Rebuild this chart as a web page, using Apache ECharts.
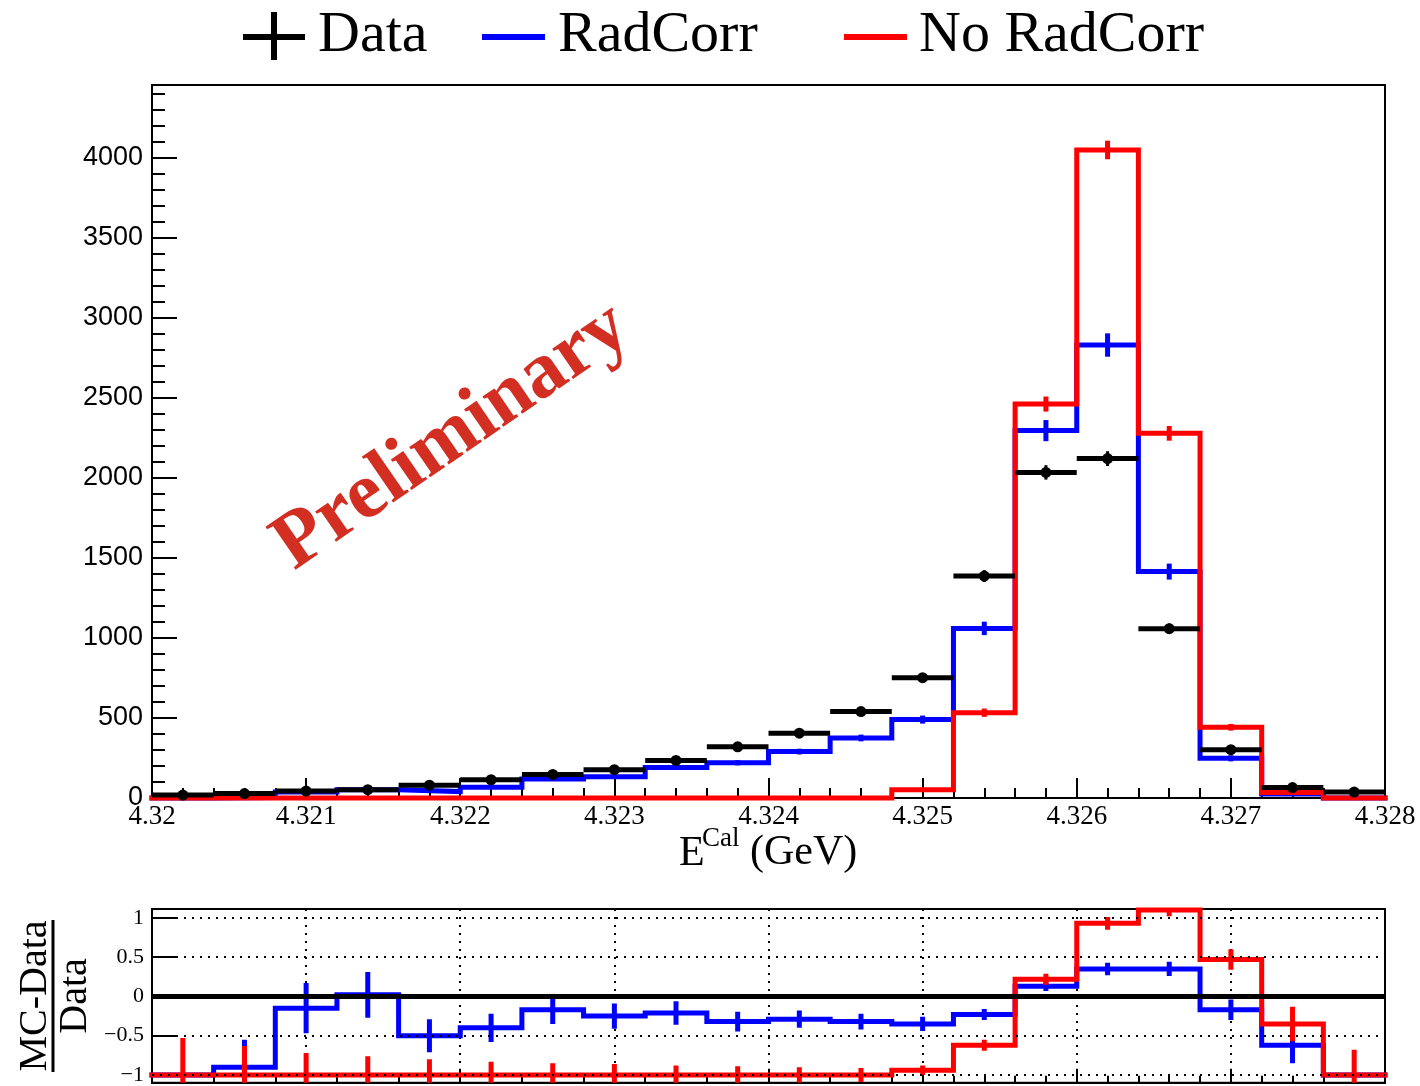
<!DOCTYPE html>
<html>
<head>
<meta charset="utf-8">
<title>E^Cal spectrum: data vs. MC with and without radiative corrections</title>
<script src="https://cdn.jsdelivr.net/npm/echarts@6/dist/echarts.min.js"></script>
<style>
  html, body { margin: 0; padding: 0; background: #fff; }
  #chart { width: 1420px; height: 1086px; }
</style>
</head>
<body>
<div id="chart"></div>
<script>
// ---- binning: 20 bins of 0.4 MeV between 4.320 and 4.328 GeV ----
const binCenters = [4.3202, 4.3206, 4.3210, 4.3214, 4.3218, 4.3222, 4.3226, 4.3230, 4.3234, 4.3238,
                    4.3242, 4.3246, 4.3250, 4.3254, 4.3258, 4.3262, 4.3266, 4.3270, 4.3274, 4.3278];
const xTicks = [4.320, 4.321, 4.322, 4.323, 4.324, 4.325, 4.326, 4.327, 4.328];
const beamLine = 4.3256;                 // vertical reference line

// ---- upper panel: event counts ----
const dataCounts   = [18, 28, 43, 52, 80, 114, 147, 177, 235, 320, 405, 540, 752, 1387, 2035, 2121, 1058, 302, 65, 37];
const dataErr      = [4, 5, 7, 7, 9, 11, 12, 13, 15, 18, 20, 23, 27, 37, 45, 46, 33, 17, 8, 6];
const radCorr      = [0, 3, 37, 52, 40, 67, 118, 133, 190, 220, 290, 375, 490, 1060, 2296, 2831, 1415, 248, 25, 0];
const radCorrErr   = [0, 2, 7, 8, 7, 9, 12, 12, 15, 16, 18, 21, 25, 42, 66, 73, 50, 19, 6, 0];
const noRadCorr    = [0, 0, 0, 0, 0, 0, 0, 0, 0, 0, 0, 0, 52, 533, 2462, 4050, 2279, 442, 35, 0];
const noRadCorrErr = [0, 0, 0, 0, 0, 0, 0, 0, 0, 0, 0, 0, 8, 26, 47, 58, 46, 21, 5, 0];
const yTicksTop    = [0, 500, 1000, 1500, 2000, 2500, 3000, 3500, 4000];
const yMaxTop      = 4456;

// ---- lower panel: (MC-Data)/Data ----
const ratioRad       = [-1, -0.9, -0.15, 0.02, -0.5, -0.4, -0.17, -0.25, -0.21, -0.32,
                        -0.29, -0.32, -0.35, -0.23, 0.13, 0.35, 0.35, -0.17, -0.62, -1];
const ratioRadErr    = [0, 0.35, 0.32, 0.29, 0.21, 0.18, 0.18, 0.16, 0.15, 0.125,
                        0.11, 0.1, 0.09, 0.07, 0.06, 0.08, 0.09, 0.13, 0.23, 0];
const ratioNoRad     = [-1, -1, -1, -1, -1, -1, -1, -1, -1, -1,
                        -1, -1, -0.94, -0.62, 0.22, 0.93, 1.1, 0.47, -0.35, -1];
const ratioNoRadErr  = [0.47, 0.37, 0.28, 0.24, 0.2, 0.17, 0.15, 0.14, 0.12, 0.11,
                        0.1, 0.09, 0.06, 0.07, 0.07, 0.08, 0.08, 0.13, 0.22, 0.32];
const yTicksRatio    = [-1, -0.5, 0, 0.5, 1];
const ratioGrid      = [-1, -0.5, 0.5, 1];

// ---- styling ----
const SERIF = "'Liberation Serif','Times New Roman',serif";
const SANS = "'Liberation Sans',Arial,Helvetica,sans-serif";
const BLUE = '#0000ff', RED = '#ff0000', MAGENTA = '#ff00ff', BLACK = '#000000';
const BIN_W = binCenters[1] - binCenters[0];

// histogram outline points: lower edge of every bin plus the last upper edge
function stepPoints(vals) {
  const pts = vals.map((v, i) => [binCenters[i] - BIN_W / 2, v]);
  pts.push([binCenters[vals.length - 1] + BIN_W / 2, vals[vals.length - 1]]);
  return pts;
}
function triples(vals, errs) {
  return vals.map((v, i) => [binCenters[i], v, errs[i]]);
}
function histLine(name, vals, color, grid) {
  return {
    name, type: 'line', xAxisIndex: grid, yAxisIndex: grid,
    data: stepPoints(vals), step: 'end', symbol: 'none', showSymbol: false,
    clip: false, z: color === RED ? 4 : 3,
    lineStyle: { color, width: 5, join: 'miter', cap: 'square' }
  };
}
function errBars(vals, errs, color, grid, width) {
  return {
    type: 'custom', xAxisIndex: grid, yAxisIndex: grid, clip: grid === 1, z: color === RED ? 4 : 3,
    data: triples(vals, errs), encode: { x: 0, y: 1 },
    renderItem(params, api) {
      const c = api.value(0), v = api.value(1), e = api.value(2);
      if (!e) return null;
      const a = api.coord([c, v + e]), b = api.coord([c, v - e]);
      return { type: 'line', shape: { x1: a[0], y1: a[1], x2: b[0], y2: b[1] },
               style: { stroke: color, lineWidth: width } };
    }
  };
}

const chart = echarts.init(document.getElementById('chart'), null, { renderer: 'canvas' });

const xAxisCommon = {
  type: 'value', min: xTicks[0], max: xTicks[xTicks.length - 1], interval: 0.001,
  axisLine: { show: true, onZero: false, lineStyle: { color: BLACK, width: 2 } },
  splitLine: { show: false }
};

chart.setOption({
  animation: false,
  backgroundColor: '#ffffff',
  grid: [
    { left: 152, top: 85, width: 1233, height: 713, show: true, borderColor: BLACK, borderWidth: 2 },
    { left: 152, top: 909, width: 1233, height: 177, show: true, borderColor: BLACK, borderWidth: 2 }
  ],
  xAxis: [
    Object.assign({}, xAxisCommon, {
      gridIndex: 0,
      axisTick: { show: true, inside: true, length: 20, lineStyle: { color: BLACK, width: 2 } },
      minorTick: { show: true, splitNumber: 5, length: 10, lineStyle: { color: BLACK, width: 2 } },
      axisLabel: { color: BLACK, fontFamily: SERIF, fontSize: 27, margin: 5,
                   formatter: v => String(+(+v).toFixed(3)) }
    }),
    Object.assign({}, xAxisCommon, {
      gridIndex: 1,
      axisTick: { show: true, inside: true, length: 14, lineStyle: { color: BLACK, width: 2 } },
      minorTick: { show: true, splitNumber: 5, length: 7, lineStyle: { color: BLACK, width: 2 } },
      axisLabel: { show: false },
      splitLine: { show: true, lineStyle: { color: BLACK, width: 2, type: [2, 6] } }
    })
  ],
  yAxis: [
    {
      gridIndex: 0, type: 'value', min: 0, max: yMaxTop, interval: 500,
      axisLine: { show: true, lineStyle: { color: BLACK, width: 2 } },
      axisTick: { show: true, inside: true, length: 25, lineStyle: { color: BLACK, width: 2 } },
      minorTick: { show: true, splitNumber: 5, length: 13, lineStyle: { color: BLACK, width: 2 } },
      splitLine: { show: false },
      axisLabel: { color: BLACK, fontFamily: SANS, fontSize: 27, margin: 9,
                   formatter: v => (yTicksTop.indexOf(v) >= 0 ? String(v) : '') }
    },
    {
      gridIndex: 1, type: 'value', min: -1.1, max: 1.1125,
      axisLine: { show: true, lineStyle: { color: BLACK, width: 2 } },
      axisTick: { show: true, inside: true, length: 25, customValues: yTicksRatio,
                  lineStyle: { color: BLACK, width: 2 } },
      splitLine: { show: false },
      axisLabel: { color: BLACK, fontFamily: SERIF, fontSize: 22, margin: 8, customValues: yTicksRatio,
                   formatter: v => (v < 0 ? '\u2212' + Math.abs(v) : String(v)) }
    }
  ],
  series: [
    // upper panel
    histLine('RadCorr', radCorr, BLUE, 0),
    errBars(radCorr, radCorrErr, BLUE, 0, 5),
    histLine('No RadCorr', noRadCorr, RED, 0),
    errBars(noRadCorr, noRadCorrErr, RED, 0, 5),
    {
      name: 'Data', type: 'custom', xAxisIndex: 0, yAxisIndex: 0, clip: false, z: 5,
      data: triples(dataCounts, dataErr), encode: { x: 0, y: 1 },
      renderItem(params, api) {
        const c = api.value(0), v = api.value(1), e = api.value(2);
        const p = api.coord([c, v]);
        const half = api.size([BIN_W, 0])[0] / 2;
        const t = api.coord([c, v + e]), b = api.coord([c, v - e]);
        return { type: 'group', children: [
          { type: 'line', shape: { x1: p[0] - half, y1: p[1], x2: p[0] + half, y2: p[1] },
            style: { stroke: BLACK, lineWidth: 5 } },
          { type: 'line', shape: { x1: p[0], y1: t[1], x2: p[0], y2: b[1] },
            style: { stroke: BLACK, lineWidth: 3 } },
          { type: 'circle', shape: { cx: p[0], cy: p[1], r: 5.5 }, style: { fill: BLACK } }
        ] };
      }
    },
    {
      type: 'line', xAxisIndex: 0, yAxisIndex: 0, data: [], z: 6,
      markLine: {
        silent: true, symbol: 'none', label: { show: false },
        lineStyle: { color: MAGENTA, width: 5, type: [10, 6] },
        data: [{ xAxis: beamLine }]
      }
    },
    // lower panel: reference lines
    {
      type: 'line', xAxisIndex: 1, yAxisIndex: 1, data: [], z: 1,
      markLine: {
        silent: true, symbol: 'none', label: { show: false },
        data: ratioGrid.map(y => ({ yAxis: y, lineStyle: { color: BLACK, width: 2, type: [2, 6] } }))
          .concat([{ yAxis: 0, lineStyle: { color: BLACK, width: 5, type: 'solid' } }])
      }
    },
    histLine('RadCorr ratio', ratioRad, BLUE, 1),
    errBars(ratioRad, ratioRadErr, BLUE, 1, 5),
    histLine('No RadCorr ratio', ratioNoRad, RED, 1),
    errBars(ratioNoRad, ratioNoRadErr, RED, 1, 5)
  ],
  graphic: [
    // legend
    { type: 'line', shape: { x1: 243, y1: 37, x2: 305, y2: 37 }, style: { stroke: BLACK, lineWidth: 6 } },
    { type: 'line', shape: { x1: 274, y1: 12, x2: 274, y2: 60 }, style: { stroke: BLACK, lineWidth: 6 } },
    { type: 'text', x: 318, y: 36, style: { text: 'Data', font: '58px ' + SERIF, fill: BLACK,
      align: 'left', verticalAlign: 'middle' } },
    { type: 'line', shape: { x1: 482, y1: 37, x2: 545, y2: 37 }, style: { stroke: BLUE, lineWidth: 6 } },
    { type: 'text', x: 558, y: 36, style: { text: 'RadCorr', font: '58px ' + SERIF, fill: BLACK,
      align: 'left', verticalAlign: 'middle' } },
    { type: 'line', shape: { x1: 844, y1: 37, x2: 907, y2: 37 }, style: { stroke: RED, lineWidth: 6 } },
    { type: 'text', x: 919, y: 36, style: { text: 'No RadCorr', font: '58px ' + SERIF, fill: BLACK,
      align: 'left', verticalAlign: 'middle' } },
    // watermark
    { type: 'text', x: 452, y: 437, rotation: 34.5 * Math.PI / 180, z: 10,
      style: { text: 'Preliminary', font: 'bold 80px ' + SERIF, fill: '#d22e22',
               align: 'center', verticalAlign: 'middle' } },
    // x-axis title
    { type: 'text', x: 679, y: 854, style: { text: 'E', font: '42px ' + SERIF, fill: BLACK,
      align: 'left', verticalAlign: 'middle' } },
    { type: 'text', x: 702, y: 839, style: { text: 'Cal', font: '27px ' + SERIF, fill: BLACK,
      align: 'left', verticalAlign: 'middle' } },
    { type: 'text', x: 750, y: 853, style: { text: '(GeV)', font: '42px ' + SERIF, fill: BLACK,
      align: 'left', verticalAlign: 'middle' } },
    // ratio y-axis title
    { type: 'text', x: 35, y: 996, rotation: Math.PI / 2,
      style: { text: 'MC-Data', font: '40px ' + SERIF, fill: BLACK, align: 'center', verticalAlign: 'middle' } },
    { type: 'line', shape: { x1: 53, y1: 920, x2: 53, y2: 1072 }, style: { stroke: BLACK, lineWidth: 3 } },
    { type: 'text', x: 75, y: 996, rotation: Math.PI / 2,
      style: { text: 'Data', font: '40px ' + SERIF, fill: BLACK, align: 'center', verticalAlign: 'middle' } }
  ]
});
</script>
</body>
</html>
